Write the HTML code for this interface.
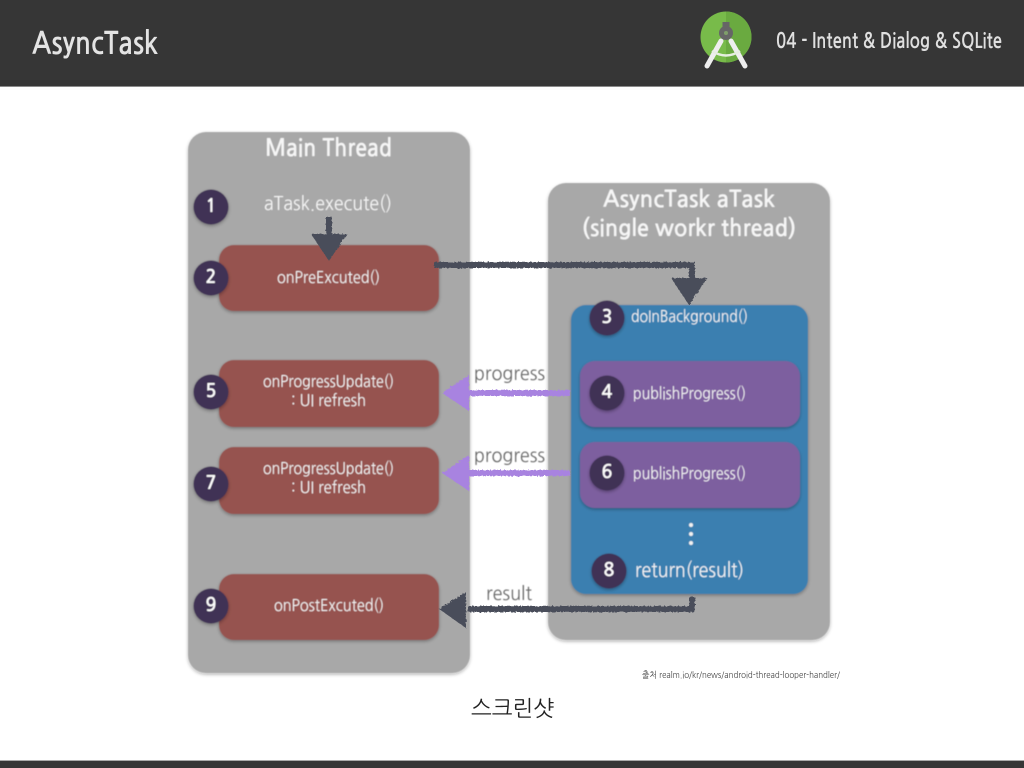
<!DOCTYPE html>
<html><head><meta charset="utf-8"><style>
html,body{margin:0;padding:0;background:#fff;width:1024px;height:768px;overflow:hidden}
svg{display:block}
text{font-family:"NanumGothic","Liberation Sans","Noto Sans CJK KR",sans-serif}
</style></head><body>
<svg width="1024" height="768" viewBox="0 0 1024 768" xmlns="http://www.w3.org/2000/svg">
<defs>
<filter id="s" x="-10%" y="-10%" width="120%" height="125%"><feDropShadow dx="0" dy="1.5" stdDeviation="1.5" flood-color="#000" flood-opacity=".3"/></filter>
<filter id="b" x="-5%" y="-5%" width="110%" height="110%"><feGaussianBlur stdDeviation=".5"/></filter>
<filter id="t" x="-5%" y="-20%" width="110%" height="140%"><feGaussianBlur stdDeviation=".3"/></filter>
<filter id="r" x="-10%" y="-30%" width="120%" height="160%"><feTurbulence type="fractalNoise" baseFrequency=".5" numOctaves="2" seed="3"/><feDisplacementMap in="SourceGraphic" scale="3"/><feGaussianBlur stdDeviation=".35"/></filter>
</defs>
<rect width="1024" height="768" fill="#fff"/>
<rect width="1024" height="86" fill="#363636"/>
<rect y="86" width="1024" height="1" fill="#8a8a8a"/>
<rect y="761" width="1024" height="7" fill="#363636"/>
<rect y="760" width="1024" height="1" fill="#aaa"/>
<g filter="url(#t)">
<text x="32" y="54" font-size="31" font-weight="700" fill="#e4e4e4" textLength="126" lengthAdjust="spacingAndGlyphs">AsyncTask</text>
<text x="776" y="48" font-size="21" font-weight="700" fill="#e0e0e0" textLength="226" lengthAdjust="spacingAndGlyphs">04 - Intent &amp; Dialog &amp; SQLite</text>
</g>
<circle cx="726" cy="37" r="25.500" fill="#78bb4a"/>
<path d="M726 11.500a25.500 25.500 0 0 1 0 51z" fill="#6aaa40"/>
<g stroke="#eeeeee" stroke-width="5" stroke-linecap="round" fill="none"><path d="M721 41L707 66"/><path d="M731 41L745 66"/></g>
<path d="M712 51Q726 60 740 51" stroke="#e6efe0" stroke-width="2.500" fill="none"/>
<rect x="722.500" y="22" width="7" height="6" fill="#666"/>
<circle cx="726" cy="33" r="7" fill="#666"/><circle cx="726" cy="33" r="2" fill="#7f9f6a"/>

<g filter="url(#b)">
<rect x="188" y="132" width="282" height="541" rx="18" fill="#a8a8a8" filter="url(#s)"/>
<rect x="548" y="183" width="282" height="457" rx="18" fill="#a8a8a8" filter="url(#s)"/>
<rect x="571" y="305" width="237" height="289" rx="15" fill="#3b7fb0" filter="url(#s)"/>
<g fill="#7d5f9f" filter="url(#s)">
<rect x="580" y="361" width="220" height="66" rx="15"/>
<rect x="580" y="442" width="220" height="66" rx="15"/>
</g>
<g fill="#96534f" filter="url(#s)">
<rect x="219" y="245" width="220" height="66" rx="15"/>
<rect x="219" y="360" width="220" height="67" rx="15"/>
<rect x="219" y="447" width="220" height="67" rx="15"/>
<rect x="219" y="574" width="220" height="66" rx="15"/>
</g>
<g fill="#3f3055" filter="url(#s)">
<circle cx="211" cy="207" r="17.500"/><circle cx="211" cy="278" r="17.500"/>
<circle cx="211" cy="392" r="17.500"/><circle cx="211" cy="484" r="17.500"/><circle cx="211" cy="606" r="17.500"/>
<circle cx="607" cy="318" r="17.500"/><circle cx="607" cy="393" r="17.500"/><circle cx="607" cy="473" r="17.500"/><circle cx="609" cy="571" r="17.500"/>
</g>
<g fill="#fff" font-weight="700" font-size="18" text-anchor="middle">
<text x="211" y="212">1</text><text x="211" y="283">2</text><text x="211" y="397">5</text><text x="211" y="489">7</text><text x="211" y="611">9</text>
<text x="607" y="323">3</text><text x="607" y="398">4</text><text x="607" y="478">6</text><text x="609" y="576">8</text>
</g>
<g fill="#f6f6f6">
<text x="265" y="156" font-size="24" font-weight="700" textLength="127" lengthAdjust="spacingAndGlyphs">Main Thread</text>
<text x="264" y="210" font-size="19" textLength="128" lengthAdjust="spacingAndGlyphs">aTask.execute()</text>
<text x="603" y="207" font-size="23" font-weight="700" textLength="172" lengthAdjust="spacingAndGlyphs">AsyncTask aTask</text>
<text x="582" y="236" font-size="23" font-weight="700" textLength="214" lengthAdjust="spacingAndGlyphs">(single workr thread)</text>
<text x="277" y="283" font-size="16" textLength="103" lengthAdjust="spacingAndGlyphs">onPreExcuted()</text>
<text x="263" y="387" font-size="16" textLength="131" lengthAdjust="spacingAndGlyphs">onProgressUpdate()</text>
<text x="291" y="406" font-size="16" textLength="75" lengthAdjust="spacingAndGlyphs">: UI refresh</text>
<text x="263" y="474" font-size="16" textLength="131" lengthAdjust="spacingAndGlyphs">onProgressUpdate()</text>
<text x="291" y="493" font-size="16" textLength="75" lengthAdjust="spacingAndGlyphs">: UI refresh</text>
<text x="274" y="611" font-size="16" textLength="110" lengthAdjust="spacingAndGlyphs">onPostExcuted()</text>
<text x="631" y="322" font-size="16" textLength="117" lengthAdjust="spacingAndGlyphs">doInBackground()</text>
<text x="633" y="399" font-size="16" textLength="113" lengthAdjust="spacingAndGlyphs">publishProgress()</text>
<text x="633" y="479" font-size="16" textLength="113" lengthAdjust="spacingAndGlyphs">publishProgress()</text>
<text x="635" y="577" font-size="19.500" textLength="109" lengthAdjust="spacingAndGlyphs">return(result)</text>
</g>
<g fill="#f2f2f2"><circle cx="691" cy="525" r="2"/><circle cx="691" cy="534" r="2"/><circle cx="691" cy="543" r="2"/></g>
<g fill="#666">
<text x="474" y="380" font-size="19" textLength="71" lengthAdjust="spacingAndGlyphs">progress</text>
<text x="474" y="462" font-size="19" textLength="71" lengthAdjust="spacingAndGlyphs">progress</text>
<text x="486" y="600" font-size="19" textLength="46" lengthAdjust="spacingAndGlyphs">result</text>
</g>
</g>

<g filter="url(#r)">
<g fill="none" stroke="#4a4e5a" stroke-width="6">
<path d="M329 217V240"/>
<path d="M434 265H692V285"/>
<path d="M692 597V609H468"/>
</g>
<g fill="#4a4e5a">
<path d="M311 234H347L329 261Z"/>
<path d="M671 278H707L689 305Z"/>
<path d="M439 609L466 592V628Z"/>
</g>
<g fill="none" stroke="#a883e0" stroke-width="6">
<path d="M570 393H468"/><path d="M570 473H468"/>
</g>
<g fill="#a883e0">
<path d="M442 393L469 375V411Z"/>
<path d="M442 473L469 455V491Z"/>
</g>
</g>

<text x="642" y="678" font-size="9" fill="#444" textLength="198" lengthAdjust="spacingAndGlyphs">출처 realm.io/kr/news/android-thread-looper-handler/</text>
<text x="471" y="716" font-size="22" fill="#222" textLength="83" lengthAdjust="spacingAndGlyphs">스크린샷</text>
</svg>
</body></html>
